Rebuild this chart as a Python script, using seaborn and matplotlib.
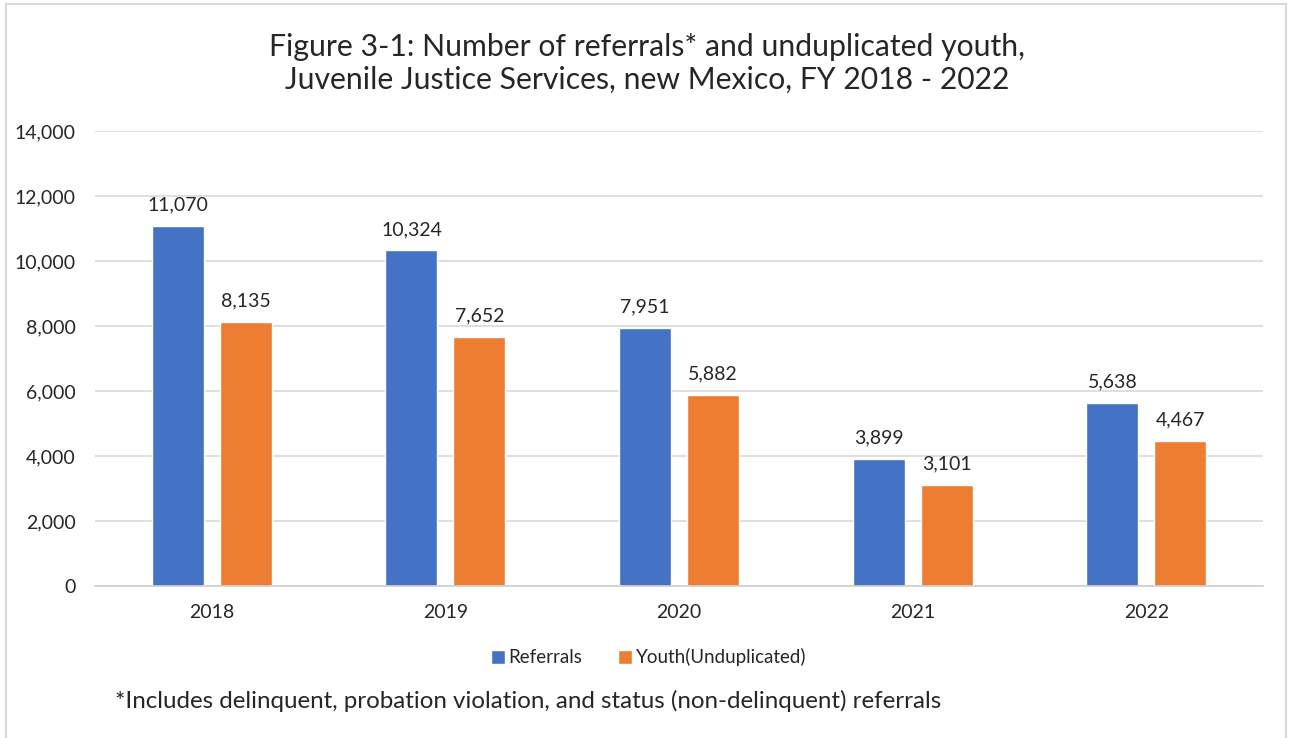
import matplotlib
matplotlib.use("Agg")
import matplotlib.pyplot as plt
import seaborn as sns
import pandas as pd
from matplotlib.patches import Rectangle

years = ["2018", "2019", "2020", "2021", "2022"]
referrals = [11070, 10324, 7951, 3899, 5638]
youth = [8135, 7652, 5882, 3101, 4467]
series_names = ["Referrals", "Youth(Unduplicated)"]
colors = ["#4472C4", "#ED7D31"]

title = "Figure 3-1: Number of referrals* and unduplicated youth,\nJuvenile Justice Services, new Mexico, FY 2018 - 2022"
footnote = "*Includes delinquent, probation violation, and status (non-delinquent) referrals"

df = pd.DataFrame({
    "Year": years * 2,
    "Count": referrals + youth,
    "Series": [series_names[0]] * len(years) + [series_names[1]] * len(years),
})

sns.set_theme(style="white")
plt.rcParams["font.family"] = ["Lato", "DejaVu Sans"]
text_color = "#262626"

fig = plt.figure(figsize=(12.89, 7.38), dpi=100)
ax = fig.add_axes([0.0737, 0.206, 0.9063, 0.6165])

sns.barplot(data=df, x="Year", y="Count", hue="Series", order=years,
            hue_order=series_names, palette=colors, width=0.582, gap=0.235,
            saturation=1, ax=ax, legend=True)

ax.set_xlim(-0.5, 4.5)
ax.set_ylim(0, 14000)
ax.set_yticks(range(0, 14001, 2000))
ax.set_yticklabels([f"{v:,}" for v in range(0, 14001, 2000)])
ax.grid(axis="y", color="#d9d9d9", linewidth=1.2)
ax.set_axisbelow(True)
for s in ["top", "right", "left"]:
    ax.spines[s].set_visible(False)
ax.spines["bottom"].set_color("#d0d0d0")
ax.spines["bottom"].set_linewidth(1.2)
ax.tick_params(axis="both", length=0, labelsize=14, colors=text_color)
ax.tick_params(axis="y", pad=14)
ax.tick_params(axis="x", pad=13)
ax.set_xlabel("")
ax.set_ylabel("")

for container in ax.containers:
    labels = [f"{v:,.0f}" for v in container.datavalues]
    ax.bar_label(container, labels=labels, padding=9, fontsize=14, color=text_color)

leg = ax.legend(loc="upper center", bbox_to_anchor=(0.474, -0.1), ncol=2,
                frameon=False, fontsize=13.5, handlelength=0.75, handleheight=0.75,
                handletextpad=0.2, columnspacing=1.9, labelcolor=text_color)

fig.text(0.502, 0.914, title, ha="center", va="center", fontsize=21.7,
         color=text_color, linespacing=1.2)
fig.text(0.089, 0.05, footnote, ha="left", va="center", fontsize=17.4, color=text_color)

fig.patches.append(Rectangle((0.005, -0.01), 0.993, 1.005, transform=fig.transFigure,
                             fill=False, edgecolor="#d9d9d9", linewidth=1.5))

fig.savefig("out.png", dpi=100)
